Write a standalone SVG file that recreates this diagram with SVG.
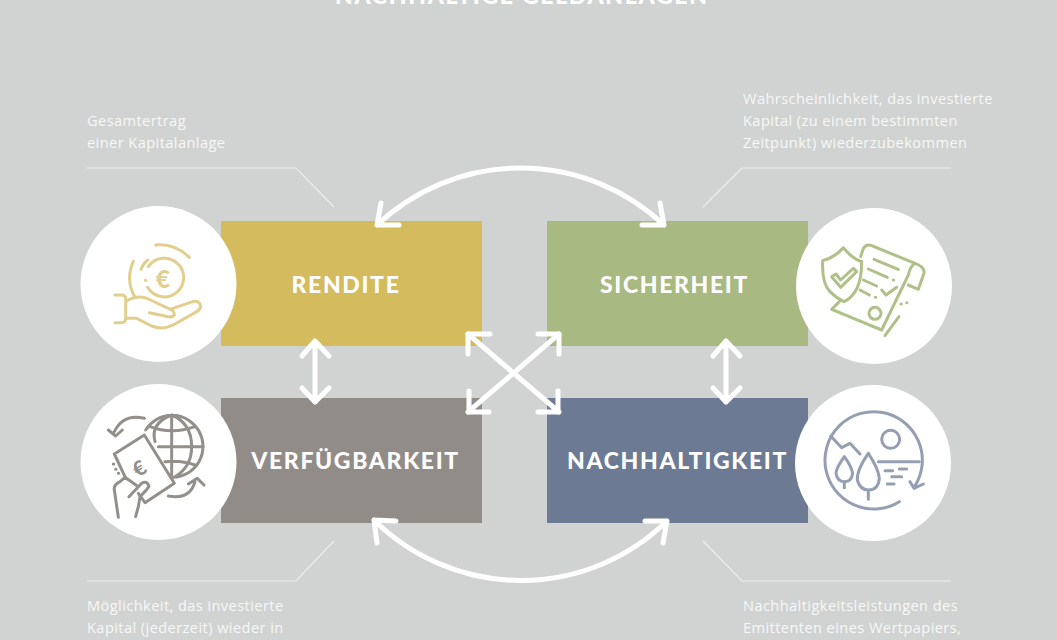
<svg xmlns="http://www.w3.org/2000/svg" width="1057" height="640" viewBox="0 0 1057 640">
<style>
.cap{font-family:"Open Sans","Noto Sans","Liberation Sans",sans-serif;font-size:14.6px;font-weight:500;fill:#f6f7f6;letter-spacing:.42px}
.lab{font-family:Lato,"Liberation Sans",sans-serif;font-size:23px;font-weight:900;fill:#fff;text-anchor:middle;letter-spacing:1.65px}
.title{font-family:Lato,"Liberation Sans",sans-serif;font-size:23px;font-weight:900;fill:#fff;letter-spacing:1.7px}
.lead{fill:none;stroke:#ecedec;stroke-width:1.2}
.conn{fill:none;stroke:#fff;stroke-width:5;stroke-linecap:round;stroke-linejoin:round}
.ico{fill:none;stroke-width:9;stroke-linecap:round;stroke-linejoin:round}
.eur{font-family:Lato,"Liberation Sans",sans-serif;font-weight:900;text-anchor:middle}
</style>
<rect width="1057" height="640" fill="#d1d3d2"/>
<text class="title" x="335" y="4">NACHHALTIGE GELDANLAGEN</text>

<g id="rendite">
<rect x="221" y="221" width="261" height="125" fill="#d4bb5d"/>
<circle cx="158.500" cy="284" r="78" fill="#fff"/>
<text class="lab" x="346" y="293">RENDITE</text>
<g class="ico" stroke="#e2cf8d" transform="translate(80 200) scale(.33333)">
<path d="M203 262A58 58 0 1 0 205 200M196 241h1M227 135Q285 130 328 172M160 184Q135 240 165 292M203 180Q188 192 183 208"/>
<path d="M105 285H125Q137 285 137 297V355Q137 368 125 368H105M140 303Q175 283 205 297L258 322Q285 330 283 345Q275 355 255 348L208 338M270 328L338 305Q358 300 362 318Q362 328 350 335L285 372Q250 392 215 378L170 355H137"/>
<text class="eur" x="249" y="264" font-size="74" fill="#e2cf8d" stroke="none">€</text>
</g>
<text class="cap" x="87" y="126">Gesamtertrag</text>
<text class="cap" x="87" y="148">einer Kapitalanlage</text>
<path class="lead" d="M87 168H296L334 207"/>
</g>

<g id="sicherheit">
<rect x="547" y="221" width="261" height="125" fill="#a9b982"/>
<circle cx="874" cy="286" r="78" fill="#fff"/>
<text class="lab" x="674.500" y="293">SICHERHEIT</text>
<g class="ico" stroke="#b0c088" transform="translate(800 200) scale(.33333)">
<path d="M130 143Q105 172 68 182Q65 250 90 275Q110 295 132 305Q185 280 185 185Q155 175 130 143Z"/>
<path d="M95 230L122 262L170 215L160 205L122 240L108 222Z"/>
<path d="M182 170L190 145Q200 130 215 137L345 190Q375 200 372 220L355 268L325 255M345 190Q330 200 325 225L245 390L95 328L118 305"/>
<path d="M222 178L295 208M205 207L262 232M280 240h1M190 240L230 258M180 270L208 285M226 292h1M245 270L258 285L290 262M303 312h1M320 308h1M255 407L297 350"/>
<circle cx="225" cy="340" r="18"/>
</g>
<text class="cap" x="743" y="104">Wahrscheinlichkeit, das investierte</text>
<text class="cap" x="743" y="126">Kapital (zu einem bestimmten</text>
<text class="cap" x="743" y="148">Zeitpunkt) wiederzubekommen</text>
<path class="lead" d="M703 207L742 168H951"/>
</g>

<g id="verfuegbarkeit">
<rect x="221" y="398" width="261" height="125" fill="#928c88"/>
<circle cx="158.500" cy="462" r="78" fill="#fff"/>
<text class="lab" x="355.500" y="469">VERFÜGBARKEIT</text>
<g class="ico" stroke="#93908c" transform="translate(75 380) scale(.33333)">
<path d="M212 150A93 93 0 1 1 295 292M290 105V285M250 200H385M240 185Q225 130 290 105Q350 130 350 200Q350 260 300 290M225 140Q290 165 360 140M270 245Q320 240 360 255"/>
<path d="M150 290L118 222L208 165L298 310L210 368L190 340M115 252h1M122 268h1M130 280h1"/>
<path d="M130 412L118 330Q115 315 135 305L150 292L190 320M162 350L200 310Q215 300 222 318Q220 325 195 350L190 380L182 410"/>
<path d="M208 115Q145 100 118 155M100 150L122 168L142 150M280 348Q345 360 360 305M340 312L367 295L387 315"/>
<text class="eur" transform="translate(205 284) rotate(-32)" font-size="62" fill="#93908c" stroke="none">€</text>
</g>
<text class="cap" x="87" y="611">Möglichkeit, das investierte</text>
<text class="cap" x="87" y="633">Kapital (jederzeit) wieder in</text>
<path class="lead" d="M87 581H296L334 541"/>
</g>

<g id="nachhaltigkeit">
<rect x="547" y="398" width="261" height="125" fill="#6c7a93"/>
<circle cx="873" cy="463" r="78" fill="#fff"/>
<text class="lab" x="677.500" y="469">NACHHALTIGKEIT</text>
<g class="ico" stroke="#959fb2" transform="translate(800 380) scale(.33333)">
<path d="M298 365A146 146 0 1 1 345 318M330 305L342 325L370 312"/>
<circle cx="272" cy="178" r="27"/>
<path d="M92 168L125 203L150 190L180 222M235 245H358M255 272H278M298 267H320M275 290H305M262 312H282"/>
<path d="M205 220Q170 270 172 300Q180 330 205 330Q235 330 238 295Q235 265 205 220ZM205 330V358M133 230Q108 265 108 280Q112 305 133 305Q155 305 158 280Q155 260 133 230ZM133 305V323"/>
</g>
<text class="cap" x="743" y="611">Nachhaltigkeitsleistungen des</text>
<text class="cap" x="743" y="633">Emittenten eines Wertpapiers,</text>
<path class="lead" d="M703 541L742 581H951"/>
</g>

<g id="connectors" class="conn">
<path d="M377 225A209 209 0 0 1 664 225M381 203L377 225L399 225M660 203L664 225L642 225"/>
<path d="M374 520A209 209 0 0 0 667 521M377 543L374 520L396 521M663 543L667 521L645 521"/>
<path d="M315 341V402M302 356L315 341L329 356M302 388L315 402L329 388"/>
<path d="M726 341V402M713 356L726 341L740 356M713 388L726 402L740 388"/>
<path d="M468 334L559 412M559 334L468 412"/>
<path d="M490 334H468V354M538 334H559V354M469 391V412H489M558 391V412H538"/>
</g>
</svg>
